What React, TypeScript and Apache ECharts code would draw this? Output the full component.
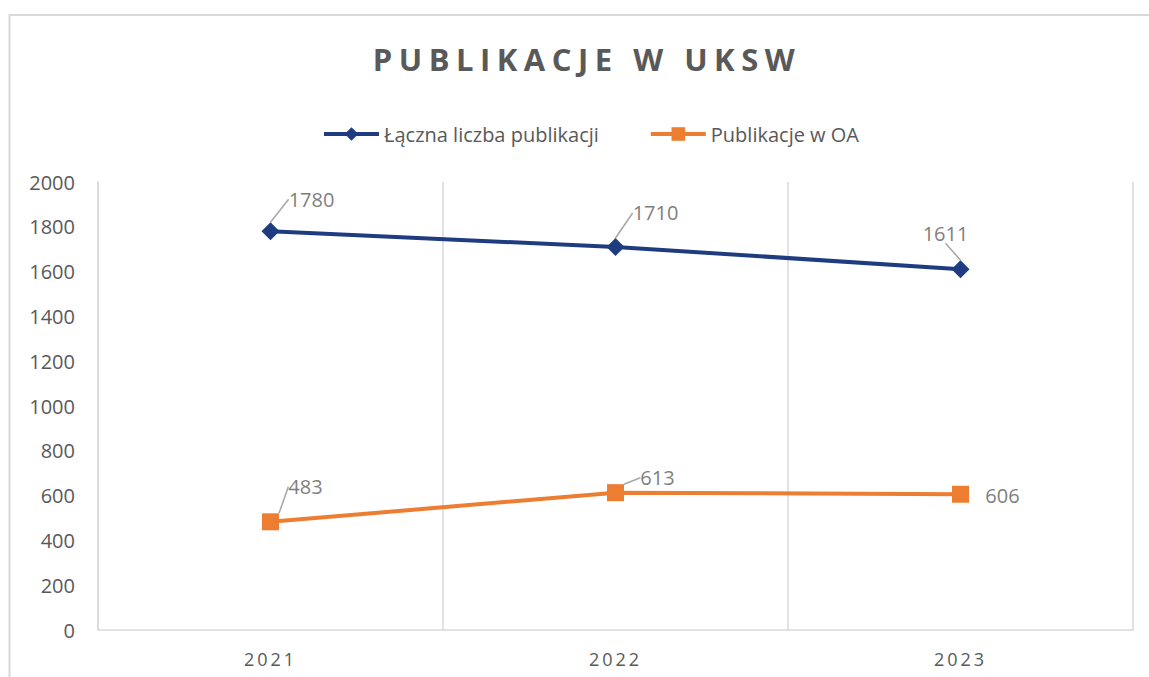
import React, { useEffect, useRef } from "react";
import * as echarts from "echarts";

const chartTitle = "PUBLIKACJE W UKSW";
const years = ["2021", "2022", "2023"];
const seriesNames = ["Łączna liczba publikacji", "Publikacje w OA"];
const totalPubs = [1780, 1710, 1611];
const oaPubs = [483, 613, 606];
const yMin = 0;
const yMax = 2000;
const yStep = 200;

const FONT = "'Open Sans', 'DejaVu Sans', sans-serif";
const BLUE = "#1f3c80";
const ORANGE = "#ed7d31";

// label offsets (dx, dy) relative to each point, per series
const totalLabelOffsets = [
  [41, -32],
  [40, -34],
  [-15, -36],
];
const oaLabelOffsets = [
  [35, -35],
  [42, -15],
  [42, 1],
];

export default function App() {
  const ref = useRef<HTMLDivElement>(null);

  useEffect(() => {
    if (!ref.current) return;
    const chart = echarts.init(ref.current, undefined, { renderer: "svg" });

    const labelStyle = {
      show: true,
      position: "inside",
      color: "#7f7f7f",
      fontFamily: FONT,
      fontSize: 20,
    };
    const labelLine = {
      show: true,
      lineStyle: { color: "#a6a6a6", width: 1.5 },
    };

    chart.setOption({
      animation: false,
      backgroundColor: "#ffffff",
      graphic: [
        {
          type: "rect",
          shape: { x: 9.5, y: 15, width: 1400, height: 1000 },
          style: { fill: "none", stroke: "#d9d9d9", lineWidth: 2 },
          silent: true,
          z: -10,
        },
        {
          type: "text",
          x: 587,
          y: 59,
          style: {
            text: chartTitle,
            fill: "#595959",
            font: `bold 31px ${FONT}`,
            textAlign: "center",
            textVerticalAlign: "middle",
          },
        },
      ],
      legend: {
        top: 119,
        left: 317,
        itemWidth: 55,
        itemHeight: 17,
        itemGap: 50,
        lineStyle: { width: 4 },
        textStyle: { color: "#595959", fontFamily: FONT, fontSize: 20 },
        data: seriesNames,
      },
      grid: { left: 98, right: 16, top: 182, bottom: 47 },
      xAxis: {
        type: "category",
        data: years,
        boundaryGap: true,
        axisLine: { show: true, lineStyle: { color: "#d9d9d9", width: 1.5 } },
        axisTick: { show: false },
        splitLine: { show: true, lineStyle: { color: "#d9d9d9", width: 1.5 } },
        axisLabel: {
          color: "#595959",
          fontFamily: FONT,
          fontSize: 18,
          margin: 20,
        },
      },
      yAxis: {
        type: "value",
        min: yMin,
        max: yMax,
        interval: yStep,
        axisLine: { show: true, lineStyle: { color: "#d9d9d9", width: 1.5 } },
        axisTick: { show: false },
        splitLine: { show: false },
        axisLabel: {
          color: "#595959",
          fontFamily: FONT,
          fontSize: 20,
          margin: 23,
          formatter: (v: number) => String(v),
        },
      },
      series: [
        {
          name: seriesNames[0],
          type: "line",
          data: totalPubs,
          symbol: "diamond",
          symbolSize: 18,
          lineStyle: { color: BLUE, width: 4 },
          itemStyle: { color: BLUE },
          label: labelStyle,
          labelLine,
          labelLayout: (p: any) => ({
            dx: totalLabelOffsets[p.dataIndex][0],
            dy: totalLabelOffsets[p.dataIndex][1],
          }),
        },
        {
          name: seriesNames[1],
          type: "line",
          data: oaPubs.map((v, i) =>
            i === oaPubs.length - 1 ? { value: v, labelLine: { show: false } } : v
          ),
          symbol: "rect",
          symbolSize: 17,
          lineStyle: { color: ORANGE, width: 4 },
          itemStyle: { color: ORANGE },
          label: labelStyle,
          labelLine,
          labelLayout: (p: any) => ({
            dx: oaLabelOffsets[p.dataIndex][0],
            dy: oaLabelOffsets[p.dataIndex][1],
          }),
        },
      ],
    });

    // letter spacing for title and category labels (as in the original)
    const svgTexts = ref.current.querySelectorAll("text");
    svgTexts.forEach((t) => {
      const s = t.textContent || "";
      if (s === chartTitle) t.setAttribute("letter-spacing", "6.5");
      else if (years.includes(s)) t.setAttribute("letter-spacing", "3");
    });

    return () => chart.dispose();
  }, []);

  return (
    <div
      ref={ref}
      style={{ position: "fixed", left: 0, top: 0, width: 1149, height: 677, background: "#fff" }}
    />
  );
}
